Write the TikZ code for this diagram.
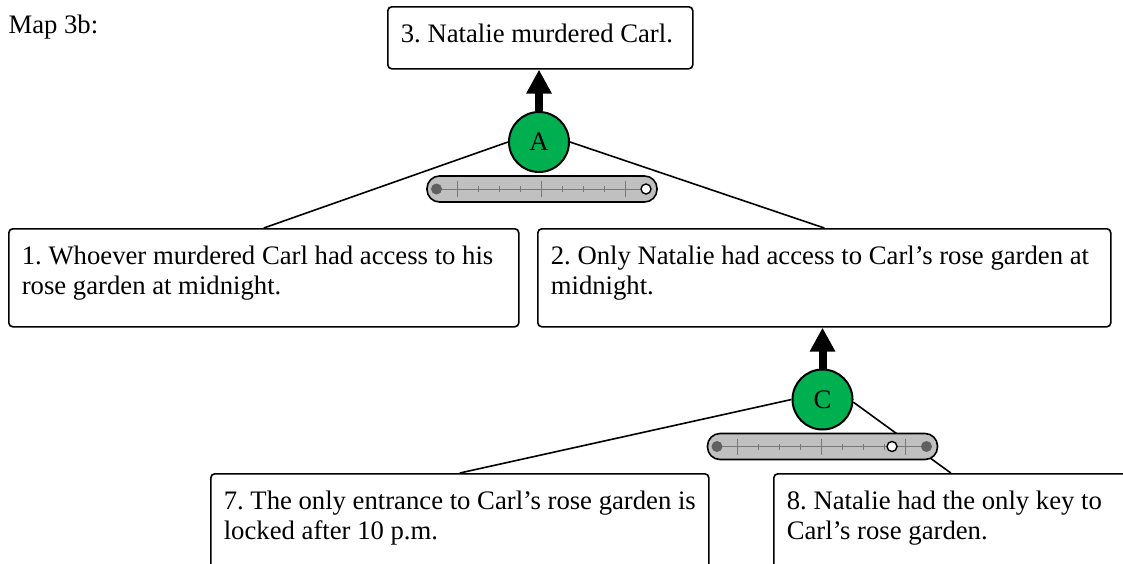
\documentclass[tikz,border=0pt]{standalone}
\usepackage{fontspec}
\setmainfont{Liberation Serif}
\usetikzlibrary{arrows.meta}
\definecolor{argGreen}{RGB}{0,176,80}
\definecolor{barGrey}{RGB}{192,192,192}
\definecolor{tickGrey}{RGB}{120,120,120}
\definecolor{dotGrey}{RGB}{96,96,96}
\frenchspacing
\begin{document}
\begin{tikzpicture}[x=1pt,y=1pt]
    \tikzstyle{every node}+=[font=\fontsize{26.7}{30.5}\selectfont]
    \tikzstyle{claim}=[draw=black, line width=1.6pt, rounded corners=4pt, anchor=north west, inner xsep=13pt, inner ysep=14pt]
    \tikzstyle{argnode}=[circle, draw=black, line width=2pt, fill=argGreen, minimum size=60pt, inner sep=0pt]
    \tikzstyle{support}=[line width=8pt, -{Triangle[width=24pt,length=24pt]}]
    \tikzstyle{link}=[line width=1.6pt]
    \tikzstyle{slider}=[draw=black, line width=1.6pt, fill=barGrey, rounded corners=12.5pt, minimum width=230pt, minimum height=26pt, inner sep=0pt]
    \tikzstyle{scaleline}=[tickGrey, line width=1pt]
    \useasboundingbox (0,0) rectangle (1123,-563);
    \clip (0,0) rectangle (1123,-563);
    \node[anchor=base west] (title) at (5,-33) {Map 3b:};
    \node[claim] (n3) at (387,-6) {\parbox[c][34pt][t]{279pt}{\strut 3. Natalie murdered Carl.}};
    \node[claim] (n1) at (8,-228) {\parbox[c][70pt][t]{484pt}{\strut 1. Whoever murdered Carl had access to his\\rose garden at midnight.}};
    \node[claim] (n2) at (537,-228) {\parbox[c][70pt][t]{547pt}{\strut 2. Only Natalie had access to Carl's rose garden at\\midnight.}};
    \node[claim] (n7) at (210,-473) {\parbox[c][70pt][t]{472pt}{\strut 7. The only entrance to Carl's rose garden is\\locked after 10 p.m.}};
    \node[claim] (n8) at (773,-473) {\parbox[c][70pt][t]{328pt}{\strut 8. Natalie had the only key to\\Carl's rose garden.}};
    \node[argnode] (A) at (539,-142) {A};
    \node[argnode] (C) at (822.5,-399.5) {C};
    \draw[support] (A.north) -- (A.north |- n3.south);
    \draw[support] (C.north) -- (C.north |- n2.south);
    \draw[link] (n1.north) -- (A.west);
    \draw[link] (n2.north) -- (A.east);
    \draw[link] (n7.north) -- (C.west);
    \draw[link] (n8.north) -- (C.-5);
    \node[slider] (sA) at (542,-189) {};
    \begin{scope}[shift={(sA.center)}]
        \draw[scaleline] (-105.5,0) -- (104,0);
        \foreach \i in {1,5,9} \draw[scaleline] (-105.5+\i*20.95,-8) -- ++(0,16);
        \foreach \i in {2,3,4,6,7,8} \draw[scaleline] (-105.5+\i*20.95,-3) -- ++(0,6);
        \fill[dotGrey] (-105.5,0) circle (5.5);
        \draw[line width=1.4pt, fill=white] (104,0) circle (5);
    \end{scope}
    \node[slider] (sC) at (822.5,-446.5) {};
    \begin{scope}[shift={(sC.center)}]
        \draw[scaleline] (-105.5,0) -- (104,0);
        \foreach \i in {1,5,9} \draw[scaleline] (-105.5+\i*20.95,-8) -- ++(0,16);
        \foreach \i in {2,3,4,6,7,8} \draw[scaleline] (-105.5+\i*20.95,-3) -- ++(0,6);
        \fill[dotGrey] (-105.5,0) circle (5.5);
        \fill[dotGrey] (104,0) circle (5.5);
        \draw[line width=1.4pt, fill=white] (69.5,0) circle (5);
    \end{scope}
\end{tikzpicture}
\end{document}
